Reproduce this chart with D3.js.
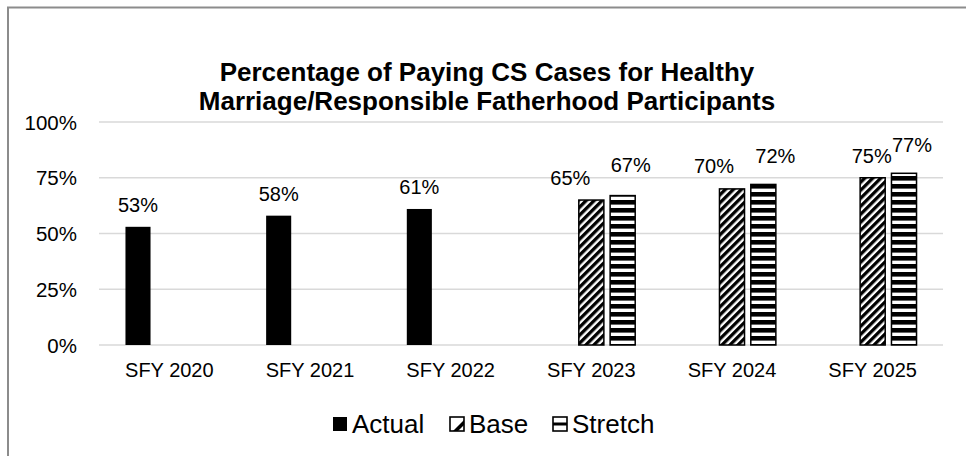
<!DOCTYPE html>
<html>
<head>
<meta charset="utf-8">
<script src="https://cdn.jsdelivr.net/npm/d3@7/dist/d3.min.js"></script>
<style>
  html, body { margin: 0; padding: 0; background: #fff; }
  svg { display: block; font-family: "Liberation Sans", Arial, sans-serif; }
</style>
</head>
<body>
<svg id="chart" width="966" height="456"></svg>
<script>
// ---- data ----
const categories = ["SFY 2020", "SFY 2021", "SFY 2022", "SFY 2023", "SFY 2024", "SFY 2025"];
const seriesNames = ["Actual", "Base", "Stretch"];
const actualValues  = [53, 58, 61, null, null, null];
const baseValues    = [null, null, null, 65, 70, 75];
const stretchValues = [null, null, null, 67, 72, 77];
const yTicks = [0, 25, 50, 75, 100];
const titleLines = ["Percentage of Paying CS Cases for Healthy", "Marriage/Responsible Fatherhood Participants"];

// ---- layout / style (not data) ----
const W = 966, H = 456;
const plot = { left: 99, right: 943, top: 122, bottom: 345 };
// manual label nudges (as positioned in the source chart)
const labelNudge = {
  "Base|SFY 2023": [-21, 0], "Stretch|SFY 2023": [8, -9],
  "Base|SFY 2024": [-18, -1], "Stretch|SFY 2024": [12, -6],
  "Base|SFY 2025": [-1, 0], "Stretch|SFY 2025": [8, -6]
};

const valuesBySeries = { Actual: actualValues, Base: baseValues, Stretch: stretchValues };
const rows = [];
seriesNames.forEach(s => valuesBySeries[s].forEach((v, i) => {
  if (v !== null) rows.push({ series: s, cat: categories[i], value: v });
}));

const svg = d3.select("#chart");

// patterns
const defs = svg.append("defs");
const pDiag = defs.append("pattern").attr("id", "pDiag")
  .attr("patternUnits", "userSpaceOnUse").attr("width", 5.66).attr("height", 5.66)
  .attr("patternTransform", "rotate(45)");
pDiag.append("rect").attr("width", 5.66).attr("height", 5.66).attr("fill", "#fff");
pDiag.append("rect").attr("width", 3.3).attr("height", 5.66).attr("fill", "#000");

const pHoriz = defs.append("pattern").attr("id", "pHoriz")
  .attr("patternUnits", "userSpaceOnUse").attr("width", 8).attr("height", 8);
pHoriz.append("rect").attr("width", 8).attr("height", 8).attr("fill", "#fff");
pHoriz.append("rect").attr("width", 8).attr("height", 4.6).attr("fill", "#000");

const fills = { Actual: "#000", Base: "url(#pDiag)", Stretch: "url(#pHoriz)" };

// border
svg.append("rect").attr("x", 8).attr("y", 7.5).attr("width", 1000).attr("height", 500)
  .attr("fill", "none").attr("stroke", "#8c8c8c").attr("stroke-width", 2);

// title
svg.append("text").attr("x", 487).attr("text-anchor", "middle")
  .attr("font-weight", "bold").attr("font-size", 26).attr("fill", "#000")
  .selectAll("tspan").data(titleLines).join("tspan")
  .attr("x", 487).attr("y", (d, i) => 81 + i * 29).text(d => d);

// scales
const x0 = d3.scaleBand().domain(categories).range([plot.left, plot.right]).padding(0);
const groupW = 94;
const x1 = d3.scaleBand().domain(seriesNames).range([0, groupW]).paddingInner(0.2).paddingOuter(0.1);
const y = d3.scaleLinear().domain([0, 100]).range([plot.bottom, plot.top]);

// gridlines
svg.append("g").selectAll("line").data(yTicks).join("line")
  .attr("x1", plot.left).attr("x2", plot.right)
  .attr("y1", d => y(d)).attr("y2", d => y(d))
  .attr("stroke", "#d9d9d9").attr("stroke-width", 1.5);

// y axis labels
const yAxis = d3.axisLeft(y).tickValues(yTicks).tickFormat(d => d + "%").tickSize(0).tickPadding(0);
const gy = svg.append("g").attr("transform", `translate(77,0)`).call(yAxis);
gy.select(".domain").remove();
gy.selectAll("text").attr("font-size", 20.5).attr("fill", "#000")
  .attr("font-family", "Liberation Sans, Arial, sans-serif").attr("dy", "0.35em");

// x axis labels
const xAxis = d3.axisBottom(x0).tickSize(0).tickPadding(0);
const gx = svg.append("g").attr("transform", `translate(0,${plot.bottom})`).call(xAxis);
gx.select(".domain").remove();
gx.selectAll("text").attr("font-size", 20).attr("fill", "#000")
  .attr("font-family", "Liberation Sans, Arial, sans-serif").attr("dy", null).attr("y", 32);

const barX = d => x0(d.cat) + x0.bandwidth() / 2 - groupW / 2 + x1(d.series);

// bars
svg.append("g").selectAll("rect").data(rows).join("rect")
  .attr("x", d => barX(d)).attr("width", x1.bandwidth())
  .attr("y", d => y(d.value)).attr("height", d => y(0) - y(d.value))
  .attr("fill", d => fills[d.series])
  .attr("stroke", "#000").attr("stroke-width", d => d.series === "Actual" ? 0 : 1.5);

// data labels
svg.append("g").selectAll("text").data(rows).join("text")
  .attr("x", d => barX(d) + x1.bandwidth() / 2 + (labelNudge[d.series + "|" + d.cat] || [0, 0])[0])
  .attr("y", d => y(d.value) - 15 + (labelNudge[d.series + "|" + d.cat] || [0, 0])[1])
  .attr("text-anchor", "middle").attr("font-size", 20).attr("fill", "#000")
  .text(d => d.value + "%");

// legend
const legendItems = [
  { name: "Actual", x: 333 },
  { name: "Base", x: 450 },
  { name: "Stretch", x: 553 }
];
const lg = svg.append("g").selectAll("g").data(legendItems).join("g")
  .attr("transform", d => `translate(${d.x},417)`);
lg.append("rect").attr("width", 14).attr("height", 14)
  .attr("fill", d => d.name === "Actual" ? "#000" : "#fff")
  .attr("stroke", "#000").attr("stroke-width", d => d.name === "Actual" ? 0 : 1.6);
lg.filter(d => d.name === "Base").append("path")
  .attr("d", "M3,14 L14,3 L14,8 L8,14 Z").attr("fill", "#000");
lg.filter(d => d.name === "Stretch").append("rect")
  .attr("x", 0).attr("y", 5.5).attr("width", 14).attr("height", 3).attr("fill", "#000");
lg.append("text").attr("x", 19).attr("y", 15.5).attr("font-size", 26).attr("fill", "#000")
  .text(d => d.name);
</script>
</body>
</html>
